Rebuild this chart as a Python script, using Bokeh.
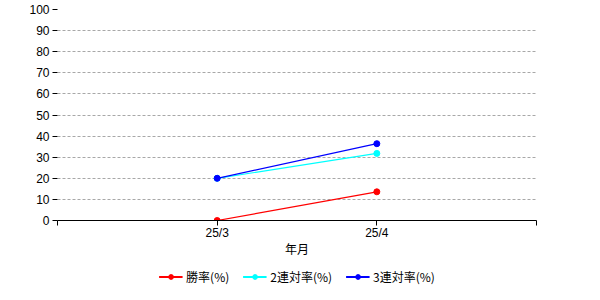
from bokeh.plotting import figure
from bokeh.models import Range1d, FixedTicker, Legend, LegendItem
from bokeh.layouts import column
from bokeh.embed import file_html
from bokeh.resources import INLINE

months = ["25/3", "25/4"]
win_rate = [0, 13.6]
top2_rate = [20, 31.8]
top3_rate = [20, 36.4]
series_names = ["勝率(%)", "2連対率(%)", "3連対率(%)"]
series_colors = ["red", "cyan", "blue"]
y_ticks = list(range(0, 101, 10))
x_title = "年月"

xs = list(range(1, len(months) + 1))
x_ticks = list(range(0, len(months) + 2))
overrides = {t: "" for t in x_ticks}
for i, m in enumerate(months):
    overrides[i + 1] = m

num_font = "Liberation Sans"
cjk_font = "Noto Sans CJK JP"

p = figure(frame_width=479, frame_height=211,
           min_border_left=57, min_border_right=64, min_border_top=9, min_border_bottom=42,
           output_backend="svg", toolbar_location=None,
           x_range=Range1d(0, len(months) + 1), y_range=Range1d(0, 100))
p.outline_line_color = None
p.background_fill_color = "white"
p.border_fill_color = "white"

# y axis
p.yaxis.ticker = FixedTicker(ticks=y_ticks)
p.yaxis.axis_line_color = None
p.yaxis.major_tick_out = 5
p.yaxis.major_tick_in = 0
p.yaxis.major_tick_line_color = "black"
p.yaxis.minor_tick_line_color = None
p.yaxis.major_label_standoff = 3
p.yaxis.major_label_text_font = num_font
p.yaxis.major_label_text_font_size = "12px"
p.yaxis.major_label_text_color = "black"

# x axis
p.xaxis.ticker = FixedTicker(ticks=x_ticks)
p.xaxis.major_label_overrides = overrides
p.xaxis.axis_line_color = "black"
p.xaxis.major_tick_out = 5
p.xaxis.major_tick_in = 0
p.xaxis.minor_tick_line_color = None
p.xaxis.major_label_standoff = 0
p.xaxis.major_label_text_font = num_font
p.xaxis.major_label_text_font_size = "12px"
p.xaxis.major_label_text_color = "black"
p.xaxis.axis_label = x_title
p.xaxis.axis_label_text_font = cjk_font
p.xaxis.axis_label_text_font_size = "12px"
p.xaxis.axis_label_text_font_style = "normal"
p.xaxis.axis_label_text_color = "black"
p.xaxis.axis_label_standoff = -3

# grid
p.xgrid.visible = False
p.ygrid.ticker = FixedTicker(ticks=y_ticks[1:])
p.ygrid.grid_line_color = "#a8a8a8"
p.ygrid.grid_line_dash = "3 2"
p.ygrid.grid_line_width = 1

all_vals = [win_rate, top2_rate, top3_rate]
for color, vals in zip(series_colors, all_vals):
    p.line(xs, vals, line_color=color, line_width=1.2)
    p.scatter(xs, vals, size=6, fill_color=color, line_color=color, marker="circle")

# legend strip (same series, ranges chosen so glyphs stay out of view)
q = figure(width=600, height=28, min_border_left=57, min_border_right=64,
           min_border_top=0, min_border_bottom=0,
           output_backend="svg", toolbar_location=None,
           x_axis_type=None, y_axis_type=None,
           x_range=Range1d(0, len(months) + 1), y_range=Range1d(1000, 1100))
q.outline_line_color = None
q.xgrid.visible = False
q.ygrid.visible = False
q.background_fill_color = "white"
q.border_fill_color = "white"

items = []
for name, color, vals in zip(series_names, series_colors, all_vals):
    lr = q.line(xs, vals, line_color=color, line_width=2)
    sr = q.scatter(xs, vals, size=4, fill_color=color, line_color=color, marker="circle")
    items.append(LegendItem(label=name, renderers=[lr, sr]))

legend = Legend(items=items, orientation="horizontal", location="center",
                border_line_color=None, background_fill_alpha=0,
                glyph_width=24, glyph_height=12, label_standoff=4, spacing=13,
                padding=0, margin=0,
                label_text_font=cjk_font, label_text_font_size="12px",
                label_text_color="black", label_height=14)
q.add_layout(legend, "center")

open("out.html", "w").write(file_html(column(p, q), INLINE))
